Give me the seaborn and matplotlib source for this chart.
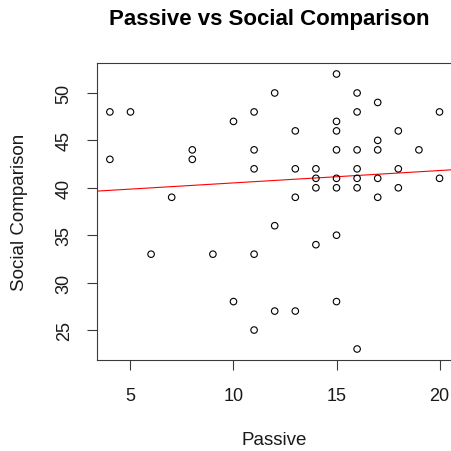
import matplotlib
matplotlib.use("Agg")
import matplotlib.pyplot as plt
import seaborn as sns
import numpy as np
import pandas as pd

# Survey scores: passive use vs. social comparison
passive = [4, 5, 4, 8, 8, 7, 10, 11, 11, 11, 12, 15, 16, 17, 16, 20, 15, 13,
           15, 18, 17, 15, 16, 17, 19, 13, 14, 16, 18, 14, 15, 16, 17, 20, 14,
           15, 16, 18, 13, 17, 12, 6, 9, 11, 10, 12, 11, 15, 14, 13, 15, 16]
social = [48, 48, 43, 44, 43, 39, 47, 48, 44, 42, 50, 52, 50, 49, 48, 48, 47, 46,
          46, 46, 45, 44, 44, 44, 44, 42, 42, 42, 42, 41, 41, 41, 41, 41, 40,
          40, 40, 40, 39, 39, 36, 33, 33, 33, 28, 27, 25, 35, 34, 27, 28, 23]

# Linear model coefficients (full sample)
fit_intercept = 39.21
fit_slope = 0.1305

x_ticks = [5, 10, 15, 20]
y_ticks = [25, 30, 35, 40, 45, 50]

df = pd.DataFrame({"Passive": passive, "Social Comparison": social})

sns.set_theme(style="white")
plt.rcParams["font.family"] = ["Liberation Sans", "DejaVu Sans"]

W = H = 452
fig = plt.figure(figsize=(W / 100, H / 100), dpi=100)
ax = fig.add_axes([96.7 / W, 1 - 361 / H, 356 / W, 297 / H])

# Axis ranges padded by 4% on each side
xr = max(passive) - min(passive)
yr = max(social) - min(social)
xlim = (min(passive) - 0.04 * xr, max(passive) + 0.04 * xr)
ylim = (min(social) - 0.04 * yr, max(social) + 0.04 * yr)

sns.scatterplot(data=df, x="Passive", y="Social Comparison", ax=ax,
                marker="o", s=22, facecolor="none", edgecolor="black",
                linewidth=0.8, zorder=3)

# Fitted line spanning the whole x range
fit_x = np.array(xlim)
fit_df = pd.DataFrame({"x": fit_x, "y": fit_intercept + fit_slope * fit_x})
sns.lineplot(data=fit_df, x="x", y="y", ax=ax, color="#ff0000",
             linewidth=0.8, zorder=2)

ax.set_xlim(*xlim)
ax.set_ylim(*ylim)

ax.set_xticks(x_ticks)
ax.set_yticks(y_ticks)
ax.set_xticklabels([str(v) for v in x_ticks])
ax.set_yticklabels([str(v) for v in y_ticks], rotation=90, va="center")

text_color = "#1a1a1a"
ax.tick_params(axis="both", direction="out", length=7.2, width=0.8,
               color="#3a3a3a", labelsize=13, labelcolor=text_color)
ax.tick_params(axis="x", pad=12.5, bottom=True)
ax.tick_params(axis="y", pad=10, left=True)

for sp in ax.spines.values():
    sp.set_visible(True)
    sp.set_color("#3a3a3a")
    sp.set_linewidth(0.8)

ax.set_xlabel("Passive", fontsize=13.5, color=text_color)
ax.set_ylabel("Social Comparison", fontsize=13.5, color=text_color)
ax.xaxis.set_label_coords((274.5 - 96.7) / 356, (361 - 441) / 297)
ax.yaxis.set_label_coords((19 - 96.7) / 356, 0.5)
ax.xaxis.label.set_va("center")
ax.yaxis.label.set_va("center")

fig.text(269 / W, 1 - 20 / H, "Passive vs Social Comparison",
         ha="center", va="center", fontsize=16, fontweight="bold", color="black")

fig.savefig("out.png", dpi=100, facecolor="white")
